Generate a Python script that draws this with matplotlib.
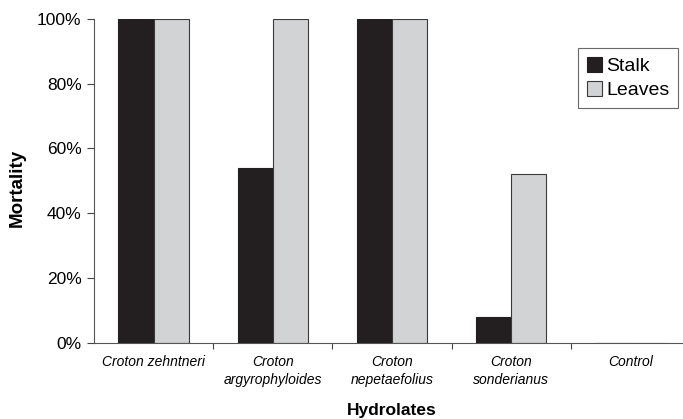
import matplotlib
matplotlib.use("Agg")
import matplotlib.pyplot as plt
import numpy as np
from matplotlib.ticker import PercentFormatter, FixedLocator

plt.rcParams['font.family'] = ['Liberation Sans', 'DejaVu Sans']

categories = ["Croton zehntneri", "Croton\nargyrophyloides", "Croton\nnepetaefolius",
              "Croton\nsonderianus", "Control"]
stalk = [100, 54, 100, 8, 0]
leaves = [100, 100, 100, 52, 0]

fig = plt.figure(figsize=(6.83, 4.19), dpi=100)
ax = fig.add_axes([94/683, 1-342.7/419, 596/683, (342.7-19)/419])

x = np.arange(len(categories))
w = 0.295
ax.bar(x - w/2, stalk, w, color='#231f20', edgecolor='#231f20', linewidth=0.8, label='Stalk')
ax.bar(x + w/2, leaves, w, color='#d1d3d4', edgecolor='#3a3a3a', linewidth=0.8, label='Leaves')

ax.set_xlim(-0.5, 4.5)
ax.set_ylim(0, 100)
ax.set_yticks([0, 20, 40, 60, 80, 100])
ax.yaxis.set_major_formatter(PercentFormatter(decimals=0))
ax.tick_params(axis='y', labelsize=12.5, length=5, width=0.8, color='#444444', pad=4)

ax.set_xticks(x)
ax.set_xticklabels(categories, fontstyle='italic', fontsize=10, linespacing=1.35)
ax.tick_params(axis='x', which='major', length=0, pad=9)
ax.xaxis.set_minor_locator(FixedLocator([0.5, 1.5, 2.5, 3.5]))
ax.tick_params(axis='x', which='minor', length=4, width=0.8, color='#444444')

for s in ['top', 'right']:
    ax.spines[s].set_visible(False)
for s in ['left', 'bottom']:
    ax.spines[s].set_color('#555555')
    ax.spines[s].set_linewidth(0.8)

ax.set_ylabel('Mortality', fontsize=13.5, fontweight='bold')
ax.yaxis.set_label_coords(-0.114, 0.479)
fig.text(391.6/683, 1-410/419, 'Hydrolates', fontsize=12.5, fontweight='bold',
         ha='center', va='center')

leg = ax.legend(loc='upper right', bbox_to_anchor=(678/683, 1-48/419),
                bbox_transform=fig.transFigure, fontsize=14, frameon=True,
                fancybox=False, edgecolor='#444444', borderaxespad=0,
                handlelength=0.8, handleheight=0.8, handletextpad=0.2,
                labelspacing=0.3, borderpad=0.45)
leg.get_frame().set_linewidth(0.8)

fig.savefig('out.png', dpi=100)
